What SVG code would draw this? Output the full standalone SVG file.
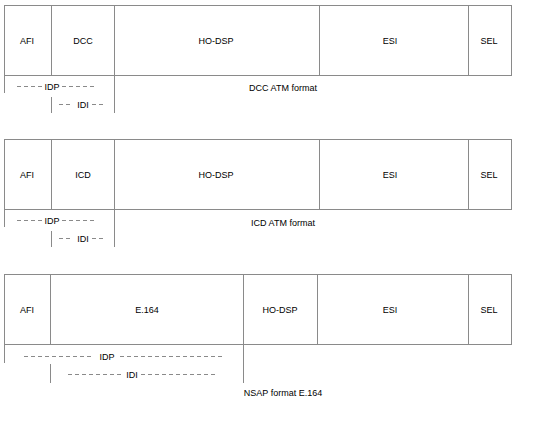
<svg xmlns="http://www.w3.org/2000/svg" width="552" height="440" viewBox="0 0 552 440">
<style>
.b{fill:#fff;stroke:#8a8a8a;stroke-width:1}
.l{stroke:#8a8a8a;stroke-width:1;fill:none}
.d{stroke:#8a8a8a;stroke-width:1;stroke-dasharray:4,3;fill:none}
text{font-family:"Liberation Sans",Arial,sans-serif;font-size:9px;fill:#000;text-anchor:middle}
</style>
<rect width="552" height="440" fill="#fff"/>
<!-- Block 1 -->
<g id="dcc">
<rect class="b" x="4.5" y="5.5" width="507" height="70"/>
<path class="l" d="M51.5 5.5V75.5M114.5 5.5V75.5M319.5 5.5V75.5M468.5 5.5V75.5"/>
<text x="27" y="44">AFI</text>
<text x="83" y="44">DCC</text>
<text x="216" y="44">HO-DSP</text>
<text x="390" y="44">ESI</text>
<text x="489" y="44">SEL</text>
</g>
<g id="dcc-labels">
<path class="l" d="M4.5 75V93M51.5 97V113M114.5 75V113"/>
<path class="d" d="M17 86.5H43M62 86.5H95M59 104.5H73M92 104.5H105"/>
<text x="52" y="90">IDP</text>
<text x="83" y="108">IDI</text>
<text x="283" y="91">DCC ATM format</text>
</g>
<!-- Block 2 -->
<g id="icd">
<rect class="b" x="4.5" y="139.5" width="507" height="70"/>
<path class="l" d="M51.5 139.5V209.5M114.5 139.5V209.5M319.5 139.5V209.5M468.5 139.5V209.5"/>
<text x="27" y="178">AFI</text>
<text x="83" y="178">ICD</text>
<text x="216" y="178">HO-DSP</text>
<text x="390" y="178">ESI</text>
<text x="489" y="178">SEL</text>
</g>
<g id="icd-labels">
<path class="l" d="M4.5 209V227M51.5 231V247M114.5 209V247"/>
<path class="d" d="M17 220.5H43M62 220.5H95M59 238.5H73M92 238.5H105"/>
<text x="52" y="224">IDP</text>
<text x="83" y="242">IDI</text>
<text x="283" y="226">ICD ATM format</text>
</g>
<!-- Block 3 -->
<g id="e164">
<rect class="b" x="4.5" y="274.5" width="507" height="70"/>
<path class="l" d="M50.5 274.5V344.5M243.5 274.5V344.5M317.5 274.5V344.5M468.5 274.5V344.5"/>
<text x="27" y="313">AFI</text>
<text x="147" y="313">E.164</text>
<text x="280" y="313">HO-DSP</text>
<text x="390" y="313">ESI</text>
<text x="489" y="313">SEL</text>
</g>
<g id="e164-labels">
<path class="l" d="M4.5 344V363M50.5 364V383M243.5 344V383"/>
<path class="d" d="M24 356.5H94M120 356.5H222M68 374.5H123M141 374.5H218"/>
<text x="107" y="360">IDP</text>
<text x="132" y="378">IDI</text>
<text x="283" y="396">NSAP format E.164</text>
</g>
</svg>
